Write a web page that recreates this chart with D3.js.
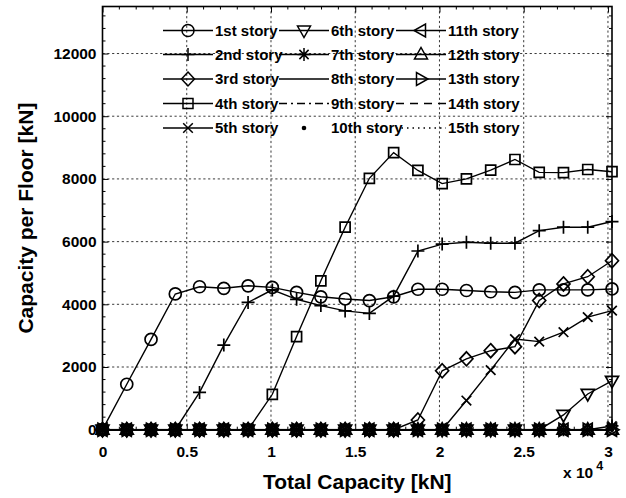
<!DOCTYPE html>
<html>
<head>
<meta charset="utf-8">
<script src="https://cdn.jsdelivr.net/npm/d3@7"></script>
<style>
  html, body { margin: 0; padding: 0; background: #fff; }
  svg { display: block; }
  text { font-family: "Liberation Sans", Arial, Helvetica, sans-serif; font-weight: bold; fill: #000; }
</style>
</head>
<body>
<svg id="chart" width="626" height="498"></svg>
<script>
// Total capacity steps (kN)
const totalCapacity = [0, 1440, 2880, 4320, 5760, 7200, 8640, 10080, 11520, 12960, 14400,
  15840, 17280, 18720, 20160, 21600, 23040, 24480, 25920, 27360, 28800, 30240];

// Capacity per floor (kN), one array per story
const story1  = [0, 1450, 2880, 4330, 4560, 4510, 4590, 4540, 4380, 4240, 4170, 4120, 4240, 4480, 4480, 4440, 4400, 4380, 4460, 4460, 4460, 4490];
const story2  = [0, 0, 0, 0, 1190, 2700, 4060, 4460, 4160, 3960, 3790, 3710, 4260, 5700, 5920, 5980, 5950, 5950, 6350, 6460, 6460, 6640];
const story3  = [0, 0, 0, 0, 0, 0, 0, 0, 0, 0, 0, 0, 0, 310, 1880, 2260, 2520, 2650, 4120, 4650, 4880, 5390];
const story4  = [0, 0, 0, 0, 0, 0, 0, 1130, 2970, 4750, 6460, 8020, 8840, 8270, 7850, 8000, 8280, 8620, 8210, 8200, 8300, 8230];
const story5  = [0, 0, 0, 0, 0, 0, 0, 0, 0, 0, 0, 0, 0, 0, 0, 930, 1900, 2890, 2810, 3110, 3590, 3800];
const story6  = [0, 0, 0, 0, 0, 0, 0, 0, 0, 0, 0, 0, 0, 0, 0, 0, 0, 0, 0, 470, 1140, 1560];
const story7  = [0, 0, 0, 0, 0, 0, 0, 0, 0, 0, 0, 0, 0, 0, 0, 0, 0, 0, 0, 0, 0, 120];
const story8  = [0, 0, 0, 0, 0, 0, 0, 0, 0, 0, 0, 0, 0, 0, 0, 0, 0, 0, 0, 0, 0, 0];
const story9  = [0, 0, 0, 0, 0, 0, 0, 0, 0, 0, 0, 0, 0, 0, 0, 0, 0, 0, 0, 0, 0, 0];
const story10 = [0, 0, 0, 0, 0, 0, 0, 0, 0, 0, 0, 0, 0, 0, 0, 0, 0, 0, 0, 0, 0, 0];
const story11 = [0, 0, 0, 0, 0, 0, 0, 0, 0, 0, 0, 0, 0, 0, 0, 0, 0, 0, 0, 0, 0, 0];
const story12 = [0, 0, 0, 0, 0, 0, 0, 0, 0, 0, 0, 0, 0, 0, 0, 0, 0, 0, 0, 0, 0, 0];
const story13 = [0, 0, 0, 0, 0, 0, 0, 0, 0, 0, 0, 0, 0, 0, 0, 0, 0, 0, 0, 0, 0, 0];
const story14 = [0, 0, 0, 0, 0, 0, 0, 0, 0, 0, 0, 0, 0, 0, 0, 0, 0, 0, 0, 0, 0, 0];
const story15 = [0, 0, 0, 0, 0, 0, 0, 0, 0, 0, 0, 0, 0, 0, 0, 0, 0, 0, 0, 0, 0, 0];

const storyNames = ["1st story", "2nd story", "3rd story", "4th story", "5th story",
  "6th story", "7th story", "8th story", "9th story", "10th story",
  "11th story", "12th story", "13th story", "14th story", "15th story"];
const storyValues = [story1, story2, story3, story4, story5, story6, story7, story8,
  story9, story10, story11, story12, story13, story14, story15];
// marker symbol and line style per story
const storyMarkers = ["circle", "plus", "diamond", "square", "cross", "triDown", "star", "none",
  "none", "point", "triLeft", "triUp", "triRight", "none", "none"];
const storyDash = ["solid", "solid", "solid", "solid", "solid", "solid", "solid", "solid",
  "dashdot", "none", "solid", "solid", "solid", "dashed", "dotted"];

const xTickValues = [0, 5000, 10000, 15000, 20000, 25000, 30000];
const xTickLabels = ["0", "0.5", "1", "1.5", "2", "2.5", "3"];
const yTickValues = [0, 2000, 4000, 6000, 8000, 10000, 12000];
const yTickLabels = ["0", "2000", "4000", "6000", "8000", "10000", "12000"];

const L = 102.5, R = 612, T = 6.5, B = 429.7;
const svg = d3.select("#chart");

const x = d3.scaleLinear().domain([0, 30240]).range([L, R]);
const y = d3.scaleLinear().domain([0, 13500]).range([B, T]);

// grid
const grid = svg.append("g").attr("stroke", "#222").attr("stroke-width", 0.9)
  .attr("stroke-dasharray", "2.2,2.6");
grid.selectAll(".gx").data(xTickValues.slice(1)).join("line")
  .attr("x1", d => x(d)).attr("x2", d => x(d)).attr("y1", T).attr("y2", B);
grid.selectAll(".gy").data(yTickValues.slice(1)).join("line")
  .attr("x1", L).attr("x2", R).attr("y1", d => y(d)).attr("y2", d => y(d));

// minor ticks (inward, on all four sides)
const xMinor = d3.range(0, 30241, 1000).filter(v => v % 5000 !== 0);
const yMinor = d3.range(0, 13500, 400).filter(v => v % 2000 !== 0);
const ticks = svg.append("g").attr("stroke", "#000").attr("stroke-width", 1);
xMinor.forEach(v => {
  ticks.append("line").attr("x1", x(v)).attr("x2", x(v)).attr("y1", B).attr("y2", B - 3);
  ticks.append("line").attr("x1", x(v)).attr("x2", x(v)).attr("y1", T).attr("y2", T + 3);
});
yMinor.forEach(v => {
  ticks.append("line").attr("x1", L).attr("x2", L + 3).attr("y1", y(v)).attr("y2", y(v));
  ticks.append("line").attr("x1", R).attr("x2", R - 3).attr("y1", y(v)).attr("y2", y(v));
});

// major axes
const xAxis = d3.axisBottom(x).tickValues(xTickValues)
  .tickFormat((d, i) => xTickLabels[i]).tickSize(-6).tickPadding(16);
const yAxis = d3.axisLeft(y).tickValues(yTickValues)
  .tickFormat((d, i) => yTickLabels[i]).tickSize(-6).tickPadding(6);
const gx = svg.append("g").attr("transform", `translate(0,${B})`).call(xAxis);
const gy = svg.append("g").attr("transform", `translate(${L},0)`).call(yAxis);
const gxTop = svg.append("g").attr("transform", `translate(0,${T})`)
  .call(d3.axisTop(x).tickValues(xTickValues).tickSize(-6).tickFormat(""));
const gyRight = svg.append("g").attr("transform", `translate(${R},0)`)
  .call(d3.axisRight(y).tickValues(yTickValues).tickSize(-6).tickFormat(""));
[gx, gy, gxTop, gyRight].forEach(g => {
  g.select(".domain").remove();
  g.selectAll(".tick line").attr("stroke", "#000").attr("stroke-width", 1);
  g.selectAll("text").attr("font-size", 15.5).attr("font-weight", "bold")
    .attr("font-family", '"Liberation Sans", Arial, sans-serif').attr("fill", "#000");
});
gx.selectAll("text").attr("dy", "0.72em");

svg.append("rect").attr("x", L).attr("y", T).attr("width", R - L).attr("height", B - T)
  .attr("fill", "none").attr("stroke", "#000").attr("stroke-width", 1.6);

// marker outlines centered at 0,0
function markerPath(type) {
  const r = 6.5;
  switch (type) {
    case "circle": return `M6,0A6,6 0 1,1 -6,0A6,6 0 1,1 6,0Z`;
    case "plus": return `M${-r},0H${r}M0,${-r}V${r}`;
    case "diamond": return `M0,${-r - 0.5}L${r},0L0,${r + 0.5}L${-r},0Z`;
    case "square": return `M-5,-5H5V5H-5Z`;
    case "cross": return `M-4.8,-4.8L4.8,4.8M-4.8,4.8L4.8,-4.8`;
    case "triDown": return `M${-r},-4.5L${r},-4.5L0,${r + 0.5}Z`;
    case "triUp": return `M${-r},4.5L${r},4.5L0,${-r - 0.5}Z`;
    case "triLeft": return `M4.5,${-r}L4.5,${r}L${-r - 0.5},0Z`;
    case "triRight": return `M-4.5,${-r}L-4.5,${r}L${r + 0.5},0Z`;
    case "star": return `M${-r},0H${r}M0,${-r}V${r}M-4.6,-4.6L4.6,4.6M-4.6,4.6L4.6,-4.6`;
    default: return null;
  }
}
function dashFor(s) {
  if (s === "dashdot") return "8,4,2,4";
  if (s === "dashed") return "8,6";
  if (s === "dotted") return "1.5,4";
  return null;
}
function drawMarker(g, type, cx, cy, sw) {
  if (type === "none") return;
  if (type === "point") {
    g.append("circle").attr("cx", cx).attr("cy", cy).attr("r", 2.3).attr("fill", "#000");
    return;
  }
  g.append("path").attr("d", markerPath(type)).attr("transform", `translate(${cx},${cy})`)
    .attr("fill", "none").attr("stroke", "#000").attr("stroke-width", sw);
}

// series
const line = d3.line().x((d, i) => x(totalCapacity[i])).y(d => y(d));
const plot = svg.append("g");
storyValues.forEach((vals, k) => {
  const g = plot.append("g");
  if (storyDash[k] !== "none") {
    g.append("path").attr("d", line(vals)).attr("fill", "none")
      .attr("stroke", "#000").attr("stroke-width", 1.4)
      .attr("stroke-dasharray", dashFor(storyDash[k]));
  }
  vals.forEach((v, i) => drawMarker(g, storyMarkers[k], x(totalCapacity[i]), y(v), 1.7));
});

// legend: three columns of five entries
const legCols = [163, 279, 396];
const legRows = [30.5, 54.5, 79, 103.5, 128];
const leg = svg.append("g");
storyNames.forEach((name, k) => {
  const cx = legCols[Math.floor(k / 5)], cy = legRows[k % 5];
  const g = leg.append("g");
  if (storyDash[k] !== "none") {
    g.append("line").attr("x1", cx).attr("x2", cx + 50).attr("y1", cy).attr("y2", cy)
      .attr("stroke", "#000").attr("stroke-width", 1.3)
      .attr("stroke-dasharray", dashFor(storyDash[k]));
  }
  drawMarker(g, storyMarkers[k], cx + 25, cy, 1.5);
  g.append("text").attr("x", cx + 52).attr("y", cy).attr("dy", "0.36em")
    .attr("font-size", 15).text(name);
});

// axis titles
svg.append("text").attr("x", (L + R) / 2).attr("y", 489).attr("text-anchor", "middle")
  .attr("font-size", 21).text("Total Capacity [kN]");
svg.append("text").attr("transform", `translate(33,${(T + B) / 2}) rotate(-90)`)
  .attr("text-anchor", "middle").attr("font-size", 21).text("Capacity per Floor [kN]");
const mult = svg.append("text").attr("x", 563).attr("y", 478).attr("font-size", 15.5);
mult.append("tspan").text("x 10");
mult.append("tspan").attr("dx", 3).attr("dy", -8).attr("font-size", 12.5).text("4");
</script>
</body>
</html>
